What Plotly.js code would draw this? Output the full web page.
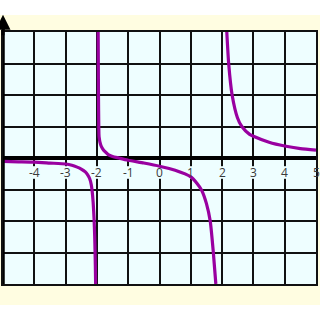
<!DOCTYPE html>
<html><head><meta charset="utf-8">
<script src="https://cdn.plot.ly/plotly-3.0.1.min.js"></script>
<style>html,body{margin:0;padding:0;background:#fff;}#c{width:320px;height:320px;}</style>
</head><body><div id="c"></div>
<script>
// Data
const leftX = [-5, -4.5, -4, -3.5, -3, -2.8, -2.63, -2.5, -2.37, -2.3, -2.23, -2.18, -2.15, -2.12, -2.09, -2.07, -2.06, -2.05, -2.04];
const leftY = [-0.11, -0.12, -0.13, -0.16, -0.19, -0.23, -0.29, -0.35, -0.44, -0.53, -0.66, -0.85, -1.07, -1.4, -1.93, -2.5, -2.9, -3.4, -4];
const midX = [-1.96, -1.955, -1.95, -1.94, -1.93, -1.88, -1.82, -1.74, -1.64, -1.5, -1.3, -1, -0.5, 0, 0.5, 1, 1.2, 1.35, 1.5, 1.62, 1.72, 1.8];
const midY = [4, 3, 2, 1, 0.67, 0.42, 0.3, 0.2, 0.11, 0.05, 0, -0.07, -0.16, -0.26, -0.39, -0.6, -0.81, -1.03, -1.45, -2, -3, -4];
const rightX = [2.15, 2.21, 2.32, 2.49, 2.63, 2.88, 3, 3.5, 4, 4.5, 5];
const rightY = [4, 3, 2, 1.28, 1, 0.75, 0.69, 0.5, 0.38, 0.3, 0.25];
const tickVals = [-4, -3, -2, -1, 0, 1, 2, 3, 4, 5];
const tickText = ['-4', '-3', '-2', '-1', '0', '1', '2', '3', '4', '5'];

const curveLine = {color: '#9900a0', width: 3.2, shape: 'spline', smoothing: 0.6};
const traces = [
  {x: leftX, y: leftY, mode: 'lines', line: curveLine, hoverinfo: 'skip'},
  {x: midX, y: midY, mode: 'lines', line: curveLine, hoverinfo: 'skip'},
  {x: rightX, y: rightY, mode: 'lines', line: curveLine, hoverinfo: 'skip'}
];

const annotations = tickVals.map((v, i) => ({
  x: v, y: -0.45, xref: 'x', yref: 'y', text: tickText[i], showarrow: false,
  font: {family: 'Open Sans, sans-serif', size: 12, color: '#3a3a3a'},
  xanchor: 'center', yanchor: 'middle'
}));
annotations.push({
  x: -5, y: 1.068, xref: 'x', yref: 'paper', text: '', showarrow: true,
  ax: 0, ay: 22, arrowhead: 2, arrowsize: 1, arrowwidth: 3, arrowcolor: '#000'
});

// label backing boxes (hide grid lines behind labels, stay under the curve)
const labelBoxes = tickVals.map((v, i) => {
  const hw = tickText[i].length > 1 ? 0.2 : 0.12;
  return {type: 'rect', xref: 'x', yref: 'y', x0: v - hw, x1: v + hw, y0: -0.66, y1: -0.26,
          fillcolor: '#eefeff', line: {width: 0}, layer: 'between'};
});

const layout = {
  width: 320, height: 320,
  margin: {l: 3, r: 4, t: 32, b: 36, pad: 0},
  paper_bgcolor: '#ffffff',
  plot_bgcolor: '#eefeff',
  showlegend: false,
  xaxis: {range: [-5, 5], dtick: 1, tick0: 0, showgrid: true, gridcolor: '#111', gridwidth: 2,
          zeroline: false, showline: true, mirror: true, linecolor: '#111', linewidth: 2,
          showticklabels: false, ticks: '', fixedrange: true},
  yaxis: {range: [-4, 4], dtick: 1, tick0: 0, showgrid: true, gridcolor: '#111', gridwidth: 2,
          zeroline: true, zerolinecolor: '#000', zerolinewidth: 3.5,
          showline: true, mirror: true, linecolor: '#111', linewidth: 2,
          showticklabels: false, ticks: '', fixedrange: true},
  shapes: [
    {type: 'rect', xref: 'paper', yref: 'paper', x0: -0.02, x1: 1.03, y0: -0.083, y1: 1.0675,
     fillcolor: '#fffde1', line: {width: 0}, layer: 'below'},
    {type: 'rect', xref: 'x', yref: 'y', x0: -5, x1: 5, y0: -4, y1: 4,
     fillcolor: '#eefeff', line: {width: 0}, layer: 'below'},
    {type: 'line', xref: 'x', yref: 'paper', x0: -5, x1: -5, y0: 0, y1: 1.02,
     line: {color: '#000', width: 3.5}, layer: 'above'}
  ].concat(labelBoxes),
  annotations: annotations
};

Plotly.newPlot('c', traces, layout, {staticPlot: true, displayModeBar: false});
</script></body></html>
